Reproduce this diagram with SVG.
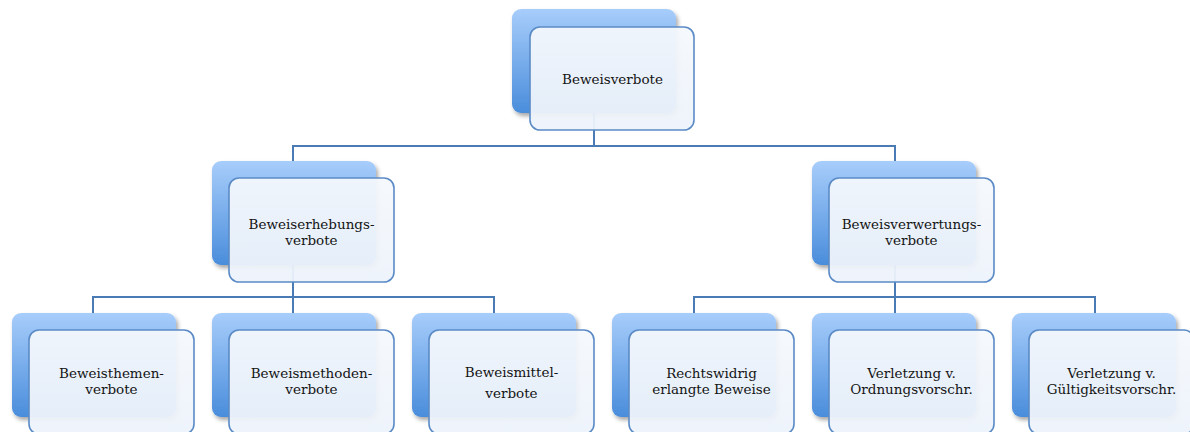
<svg xmlns="http://www.w3.org/2000/svg" width="1190" height="432" viewBox="0 0 1190 432">
<defs>
<linearGradient id="gBack" x1="0" y1="0" x2="0" y2="1">
<stop offset="0" stop-color="#a7cdfb"/>
<stop offset="1" stop-color="#4a8ddb"/>
</linearGradient>
<linearGradient id="gFront" x1="0" y1="0" x2="0" y2="1">
<stop offset="0" stop-color="#f5f8fc"/>
<stop offset="1" stop-color="#edf3fb"/>
</linearGradient>
<filter id="sh" x="-10%" y="-10%" width="130%" height="130%">
<feDropShadow dx="2" dy="3" stdDeviation="2" flood-color="#000" flood-opacity="0.35"/>
</filter>
</defs>
<style>
.back{fill:url(#gBack);filter:url(#sh)}
.front{fill:url(#gFront);fill-opacity:0.94;stroke:#5b8bc6;stroke-width:1.6}
.conn{fill:none;stroke:#4a7bb5;stroke-width:2}
text{font-family:"DejaVu Serif","Liberation Serif",serif;font-size:13.5px;fill:#141414;text-anchor:middle}
</style>
<g id="connectors">
<path class="conn" d="M594 113 V146 M293 161 V146 H895 V161"/>
<path class="conn" d="M293 265 V313 M93 313 V297 H494 V313"/>
<path class="conn" d="M895 265 V313 M694 313 V297 H1095 V313"/>
</g>
<g id="n-beweisverbote">
<rect class="back" x="512" y="9" width="164" height="104" rx="9"/>
<rect class="front" x="530" y="27" width="164" height="103" rx="10"/>
<text x="612.5" y="84">Beweisverbote</text>
</g>
<g id="n-erhebung">
<rect class="back" x="212" y="161" width="164" height="104" rx="9"/>
<rect class="front" x="229" y="178" width="165" height="104" rx="10"/>
<text x="311.5" y="229">Beweiserhebungs-</text>
<text x="311.5" y="245">verbote</text>
</g>
<g id="n-verwertung">
<rect class="back" x="812" y="161" width="164" height="104" rx="9"/>
<rect class="front" x="829" y="178" width="165" height="104" rx="10"/>
<text x="911.5" y="229">Beweisverwertungs-</text>
<text x="911.5" y="245">verbote</text>
</g>
<g id="n-themen">
<rect class="back" x="12" y="313" width="164" height="104" rx="9"/>
<rect class="front" x="29" y="330" width="165" height="104" rx="10"/>
<text x="111.5" y="378">Beweisthemen-</text>
<text x="111.5" y="394">verbote</text>
</g>
<g id="n-methoden">
<rect class="back" x="212" y="313" width="164" height="104" rx="9"/>
<rect class="front" x="229" y="330" width="165" height="104" rx="10"/>
<text x="311.5" y="378">Beweismethoden-</text>
<text x="311.5" y="394">verbote</text>
</g>
<g id="n-mittel">
<rect class="back" x="412" y="313" width="164" height="104" rx="9"/>
<rect class="front" x="429" y="330" width="165" height="104" rx="10"/>
<text x="511.5" y="377">Beweismittel-</text>
<text x="511.5" y="398">verbote</text>
</g>
<g id="n-rechtswidrig">
<rect class="back" x="612" y="313" width="164" height="104" rx="9"/>
<rect class="front" x="629" y="330" width="165" height="104" rx="10"/>
<text x="711.5" y="378">Rechtswidrig</text>
<text x="711.5" y="394">erlangte Beweise</text>
</g>
<g id="n-ordnung">
<rect class="back" x="812" y="313" width="164" height="104" rx="9"/>
<rect class="front" x="829" y="330" width="165" height="104" rx="10"/>
<text x="911.5" y="378">Verletzung v.</text>
<text x="911.5" y="394">Ordnungsvorschr.</text>
</g>
<g id="n-gueltigkeit">
<rect class="back" x="1012" y="313" width="164" height="104" rx="9"/>
<rect class="front" x="1029" y="330" width="165" height="104" rx="10"/>
<text x="1111.5" y="378">Verletzung v.</text>
<text x="1111.5" y="394">Gültigkeitsvorschr.</text>
</g>
</svg>
